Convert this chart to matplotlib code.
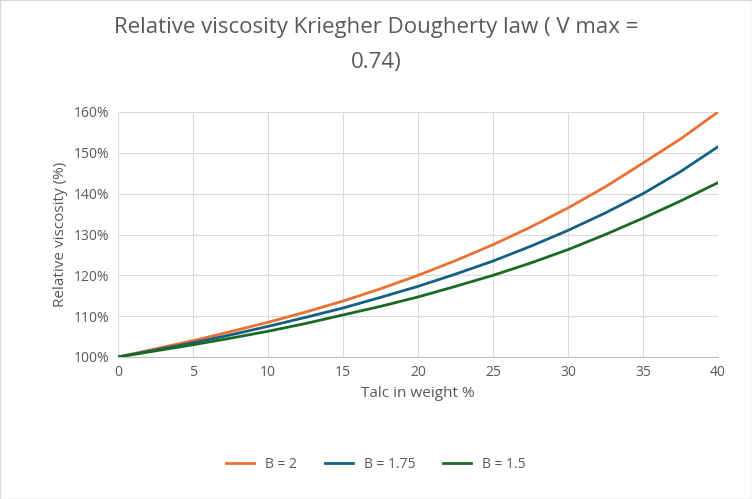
import matplotlib
matplotlib.use("Agg")
import matplotlib.pyplot as plt
from matplotlib.ticker import FuncFormatter

plt.rcParams['font.family'] = ['Open Sans', 'DejaVu Sans']

talc = [0, 2.5, 5, 7.5, 10, 12.5, 15, 17.5, 20, 22.5, 25, 27.5, 30, 32.5, 35, 37.5, 40]
b2 = [100, 102, 104, 106.2, 108.5, 111, 113.7, 116.7, 120, 123.6, 127.5, 131.8, 136.5, 141.7, 147.5, 153.4, 160]
b175 = [100, 101.7, 103.5, 105.4, 107.5, 109.7, 112, 114.6, 117.3, 120.3, 123.5, 127.1, 131, 135.3, 140, 145.4, 151.5]
b15 = [100, 101.5, 103, 104.6, 106.3, 108.2, 110.3, 112.4, 114.7, 117.3, 120, 123, 126.3, 130, 134, 138.2, 142.7]
labels = ['B = 2', 'B = 1.75', 'B = 1.5']
colors = ['#E97132', '#156082', '#196B24']

fig = plt.figure(figsize=(7.52, 4.99), dpi=100)
ax = fig.add_axes([118/752, 1-357/499, 600/752, 245/499])
for y, l, c in zip([b2, b175, b15], labels, colors):
    ax.plot(talc, y, color=c, lw=2, label=l)
ax.set_xlim(0, 40)
ax.set_ylim(100, 160)
ax.set_xticks(range(0, 41, 5))
ax.set_yticks(range(100, 161, 10))
ax.yaxis.set_major_formatter(FuncFormatter(lambda v, p: f"{int(v)}%"))
ax.grid(True, color='#d9d9d9', lw=0.8)
for s in ['top', 'right', 'left']:
    ax.spines[s].set_visible(False)
ax.spines['bottom'].set_color('#bfbfbf')
ax.tick_params(length=0, labelsize=10, colors='#595959', pad=6)
ax.set_xlabel('Talc in weight %', fontsize=11, color='#595959')
ax.set_ylabel('Relative viscosity (%)', fontsize=11, color='#595959')
fig.text(0.5, 0.965, 'Relative viscosity Kriegher Dougherty law ( V max =',
         ha='center', va='top', fontsize=16, color='#595959')
fig.text(0.5, 0.895, '0.74)', ha='center', va='top', fontsize=16, color='#595959')
fig.legend(loc='lower center', ncol=3, frameon=False, fontsize=10,
           bbox_to_anchor=(0.5, 0.03), labelcolor='#595959', handlelength=2)
fig.patches.append(plt.Rectangle((0, 0), 1, 1, transform=fig.transFigure,
                                 fill=False, edgecolor='#d9d9d9', lw=1))
fig.savefig('out.png', dpi=100)
